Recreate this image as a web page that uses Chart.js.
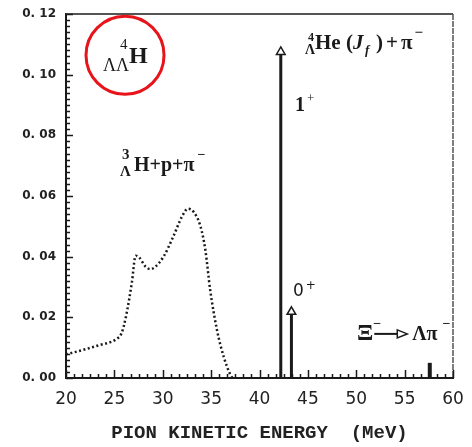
<!DOCTYPE html>
<html>
<head>
<meta charset="utf-8">
<script src="https://cdn.jsdelivr.net/npm/chart.js"></script>
<style>
  body { margin: 0; background: #fff; }
  #wrap { width: 472px; height: 447px; }
</style>
</head>
<body>
<div id="wrap"><canvas id="c" width="472" height="447"></canvas></div>
<script>
// Pion spectrum (MeV, arbitrary units)
var curveE = [20, 21.8, 23.5, 25.2, 25.75, 26.2, 26.8, 27.2, 27.6, 28.2, 28.7, 29.2, 30.1, 31.1, 32.0, 32.6, 33.2, 33.9, 34.4, 34.9, 35.6, 36.3, 37.0, 37.2];
var curveY = [0.0078, 0.0093, 0.0109, 0.0128, 0.0148, 0.0203, 0.0313, 0.0403, 0.0396, 0.0368, 0.0359, 0.0366, 0.0401, 0.0467, 0.0533, 0.0558, 0.0547, 0.0500, 0.0423, 0.0291, 0.0159, 0.0070, 0.0010, 0];

// discrete lines: 1+, 0+, Xi- decay
var lineE = [42.2, 43.3, 57.6];
var lineY = [0.1075, 0.0218, 0.005];

var xMin = 20, xMax = 60, xStep = 5;
var yMin = 0, yMax = 0.12, yStep = 0.02;

var ink = '#1a1a1a';

function spike(i, width, head) {
    return {
        data: [{ x: lineE[i], y: 0 }, { x: lineE[i], y: lineY[i] }],
        showLine: true,
        borderColor: ink,
        borderWidth: width,
        pointRadius: head ? [0, 5] : 0,
        pointStyle: 'triangle',
        pointBackgroundColor: '#fff',
        pointBorderColor: ink,
        pointBorderWidth: 1.5
    };
}

// frame, inward ticks and labels drawn on top of the plot
var decor = {
    id: 'decor',
    afterDraw: function(chart) {
        var ctx = chart.ctx, a = chart.chartArea;
        var xs = chart.scales.x, ys = chart.scales.y;
        ctx.save();

        // top and right frame
        ctx.strokeStyle = '#555';
        ctx.lineWidth = 2;
        ctx.beginPath();
        ctx.moveTo(a.left, a.top); ctx.lineTo(a.right, a.top);
        ctx.stroke();
        ctx.lineWidth = 1.5;
        ctx.setLineDash([6, 1]);
        ctx.beginPath();
        ctx.moveTo(a.right, a.top); ctx.lineTo(a.right, a.bottom);
        ctx.stroke();
        ctx.setLineDash([]);

        // inward ticks
        ctx.strokeStyle = ink;
        ctx.lineWidth = 1.5;
        ctx.beginPath();
        for (var k = 0; k <= 48; k++) {
            var v = xMin + k * 5 / 6;
            var px = Math.round(xs.getPixelForValue(v)) + 0.5;
            var len = (k % 6 === 0) ? 8 : 4;
            ctx.moveTo(px, a.bottom); ctx.lineTo(px, a.bottom - len);
        }
        for (var j = 0; j <= 60; j++) {
            var py = Math.round(ys.getPixelForValue(j * 0.002)) + 0.5;
            var l2 = (j % 10 === 0) ? 7 : 4;
            ctx.moveTo(a.left, py); ctx.lineTo(a.left + l2, py);
        }
        ctx.stroke();

        function P(x, y) { return { x: xs.getPixelForValue(x), y: ys.getPixelForValue(y) }; }
        function txt(s, font, x, y) {
            ctx.font = font;
            ctx.fillText(s, x, y);
            return x + ctx.measureText(s).width;
        }
        ctx.fillStyle = ink;
        ctx.textBaseline = 'alphabetic';
        ctx.textAlign = 'left';
        var serif = '"Liberation Serif", "DejaVu Serif", serif';

        // circled LambdaLambda 4H
        var c = P(26.1, 0.1064);
        ctx.strokeStyle = '#e8141b';
        ctx.lineWidth = 3;
        ctx.beginPath();
        ctx.arc(c.x, c.y, 39, 0, Math.PI * 2);
        ctx.stroke();
        txt('ΛΛ', '18px ' + serif, c.x - 22, c.y + 16);
        txt('4', '15px ' + serif, c.x - 5, c.y - 6);
        txt('H', 'bold 24px ' + serif, c.x + 4, c.y + 8);

        // 3LambdaH + p + pi-
        var b = P(25.58, 0.0681);
        txt('Λ', 'bold 15px ' + serif, b.x, b.y + 5);
        txt('3', 'bold 15px ' + serif, b.x + 2, b.y - 12);
        var e = txt('H+p+π', 'bold 20px ' + serif, b.x + 14, b.y);
        txt('−', 'bold 14px ' + serif, e + 3, b.y - 12);

        // 4LambdaHe(Jf) + pi-
        var h = P(44.8, 0.1084);
        var f21 = 'bold 21px ' + serif;
        txt('4', 'bold 12px ' + serif, h.x + 2, h.y - 8);
        txt('Λ', 'bold 14px ' + serif, h.x - 1, h.y + 5);
        txt('He', f21, h.x + 9, h.y);
        txt('(', f21, h.x + 40, h.y);
        txt('J', 'italic bold 21px ' + serif, h.x + 47, h.y);
        txt('f', 'italic bold 13px ' + serif, h.x + 59, h.y + 5);
        txt(')', f21, h.x + 70, h.y);
        txt('+', f21, h.x + 80, h.y);
        var pe = txt('π', f21, h.x + 95, h.y);
        txt('−', 'bold 15px ' + serif, pe + 2, h.y - 12);

        // 1+ and 0+
        var o = P(43.67, 0.0879);
        var w = txt('1', 'bold 20px ' + serif, o.x, o.y);
        txt('+', '13px ' + serif, w + 2, o.y - 9);
        var z = P(43.46, 0.0271);
        w = txt('0', '17px "DejaVu Sans", sans-serif', z.x, z.y);
        txt('+', '12px "DejaVu Sans", sans-serif', w + 2, z.y - 7);

        // Xi- -> Lambda pi-
        var g = P(50.08, 0.01256);
        w = txt('Ξ', 'bold 24px ' + serif, g.x, g.y);
        txt('−', 'bold 14px ' + serif, w, g.y - 12);
        ctx.strokeStyle = ink;
        ctx.lineWidth = 2;
        ctx.beginPath();
        ctx.moveTo(w + 1, g.y - 6); ctx.lineTo(w + 24, g.y - 6);
        ctx.stroke();
        ctx.lineWidth = 1.5;
        ctx.beginPath();
        ctx.moveTo(w + 24, g.y - 10); ctx.lineTo(w + 34, g.y - 6); ctx.lineTo(w + 24, g.y - 2); ctx.closePath();
        ctx.fillStyle = '#fff'; ctx.fill(); ctx.stroke();
        ctx.fillStyle = ink;
        w = txt('Λπ', 'bold 20px ' + serif, w + 39, g.y);
        txt('−', 'bold 14px ' + serif, w + 5, g.y - 12);

        ctx.restore();
    }
};

new Chart(document.getElementById('c'), {
    type: 'scatter',
    data: {
        datasets: [
            {
                data: curveE.map(function(x, i) { return { x: x, y: curveY[i] }; }),
                showLine: true,
                borderColor: ink,
                borderWidth: 2.5,
                borderDash: [2, 2.5],
                cubicInterpolationMode: 'monotone',
                pointRadius: 0
            },
            spike(0, 3, true),
            spike(1, 3, true),
            spike(2, 4, false)
        ]
    },
    options: {
        responsive: false,
        animation: false,
        layout: { padding: { left: 0, top: 14, right: 19, bottom: 0 } },
        plugins: { legend: { display: false }, tooltip: { enabled: false } },
        scales: {
            x: {
                type: 'linear',
                min: xMin, max: xMax,
                grid: { display: false, drawTicks: false },
                border: { display: true, color: ink, width: 2 },
                ticks: {
                    stepSize: xStep,
                    padding: 11,
                    color: '#222',
                    font: { family: '"DejaVu Sans", sans-serif', size: 17 }
                },
                title: {
                    display: true,
                    text: 'PION KINETIC ENERGY  (MeV)',
                    color: '#222',
                    padding: { top: 0, bottom: 2 },
                    font: { family: '"Liberation Mono", monospace', size: 19, weight: 'bold' }
                },
                afterFit: function(s) { s.height = 69; s.paddingRight = 0; s.paddingLeft = 0; }
            },
            y: {
                min: yMin, max: yMax,
                grid: { display: false, drawTicks: false },
                border: { display: true, color: ink, width: 2 },
                ticks: {
                    stepSize: yStep,
                    padding: 10,
                    color: '#222',
                    font: { family: '"DejaVu Sans", sans-serif', size: 12, weight: 'bold' },
                    callback: function(v) { return v.toFixed(2).replace('.', '. '); }
                },
                afterFit: function(s) { s.width = 66; s.paddingTop = 0; s.paddingBottom = 0; }
            }
        }
    },
    plugins: [decor]
});
</script>
</body>
</html>
